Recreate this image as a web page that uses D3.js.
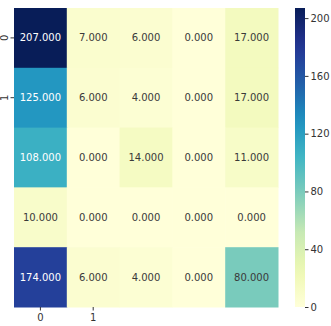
<!DOCTYPE html>
<html>
<head>
<meta charset="utf-8">
<script src="https://cdn.jsdelivr.net/npm/d3@7"></script>
<style>
  html, body { margin: 0; padding: 0; background: #fff; }
  svg { display: block; }
  text { font-family: "DejaVu Sans", sans-serif; }
</style>
</head>
<body>
<svg id="chart" width="331" height="326"></svg>
<script>
// Confusion-style count matrix, rows top to bottom
const rowKeys = [0, 1, 2, 3, 4];
const colKeys = [0, 1, 2, 3, 4];
const row0 = [207, 7, 6, 0, 17];
const row1 = [125, 6, 4, 0, 17];
const row2 = [108, 0, 14, 0, 11];
const row3 = [10, 0, 0, 0, 0];
const row4 = [174, 6, 4, 0, 80];
const matrix = [row0, row1, row2, row3, row4];
// Only these tick labels are shown on each axis
const xTickLabels = ["0", "1"];
const yTickLabels = ["0", "1"];
const colorbarTicks = [0, 40, 80, 120, 160, 200];

// YlGnBu ramp (9-class ColorBrewer stops, linearly interpolated)
const ylgnbu = ["#ffffd9","#edf8b1","#c7e9b4","#7fcdbb","#41b6c4","#1d91c0","#225ea8","#253494","#081d58"];

const vmin = 0;
const vmax = d3.max(matrix.flat());
const color = d3.scaleLinear()
  .domain(ylgnbu.map((_, i) => vmin + (vmax - vmin) * i / (ylgnbu.length - 1)))
  .range(ylgnbu)
  .interpolate(d3.interpolateRgb)
  .clamp(true);

const svg = d3.select("#chart");
const plot = { left: 14, top: 8, right: 278, bottom: 307 };

const x = d3.scaleBand().domain(colKeys).range([plot.left, plot.right]);
const y = d3.scaleBand().domain(rowKeys).range([plot.top, plot.bottom]);

const cells = [];
matrix.forEach((row, r) => row.forEach((v, c) => cells.push({ r, c, v })));

svg.append("g").selectAll("rect")
  .data(cells)
  .join("rect")
  .attr("x", d => x(d.c))
  .attr("y", d => y(d.r))
  .attr("width", x.bandwidth() + 0.5)
  .attr("height", y.bandwidth() + 0.5)
  .attr("fill", d => color(d.v));

// Annotation text colour follows the cell's luminance
function textColor(v) {
  const c = d3.rgb(color(v));
  const lin = ch => { ch /= 255; return ch <= 0.03928 ? ch / 12.92 : Math.pow((ch + 0.055) / 1.055, 2.4); };
  const lum = 0.2126 * lin(c.r) + 0.7152 * lin(c.g) + 0.0722 * lin(c.b);
  return lum > 0.408 ? "#3a3a3a" : "#ffffff";
}

svg.append("g").selectAll("text")
  .data(cells)
  .join("text")
  .attr("x", d => x(d.c) + x.bandwidth() / 2)
  .attr("y", d => y(d.r) + y.bandwidth() / 2)
  .attr("text-anchor", "middle")
  .attr("dominant-baseline", "central")
  .attr("font-size", 10)
  .attr("fill", d => textColor(d.v))
  .text(d => d.v.toFixed(3));

// X axis: ticks for the labelled columns only
const xAxis = d3.axisBottom(x)
  .tickValues(colKeys.slice(0, xTickLabels.length))
  .tickFormat((d, i) => xTickLabels[i])
  .tickSize(3.5)
  .tickPadding(3.5);
const gx = svg.append("g").attr("transform", `translate(0,${plot.bottom})`).call(xAxis);
gx.select(".domain").remove();
gx.selectAll("line").attr("stroke", "#333");
gx.selectAll("text").attr("font-size", 10).attr("fill", "#333");

// Y axis: rotated labels for the labelled rows only
const yAxis = d3.axisLeft(y)
  .tickValues(rowKeys.slice(0, yTickLabels.length))
  .tickFormat((d, i) => yTickLabels[i])
  .tickSize(3.5)
  .tickPadding(3.5);
const gy = svg.append("g").attr("transform", `translate(${plot.left},0)`).call(yAxis);
gy.select(".domain").remove();
gy.selectAll("line").attr("stroke", "#333");
gy.selectAll("text")
  .attr("font-size", 10)
  .attr("fill", "#333")
  .attr("text-anchor", "middle")
  .attr("x", 0)
  .attr("y", 0)
  .attr("dy", null)
  .attr("transform", "translate(-6.3,0) rotate(-90)");

// Colorbar
const cb = { left: 295, right: 305, top: 8, bottom: 307 };
const cbScale = d3.scaleLinear().domain([vmin, vmax]).range([cb.bottom, cb.top]);
const defs = svg.append("defs");
const grad = defs.append("linearGradient")
  .attr("id", "cbgrad").attr("x1", 0).attr("y1", 1).attr("x2", 0).attr("y2", 0);
d3.range(0, 1.0001, 0.05).forEach(t => {
  grad.append("stop").attr("offset", t).attr("stop-color", color(vmin + t * (vmax - vmin)));
});
svg.append("rect")
  .attr("x", cb.left).attr("y", cb.top)
  .attr("width", cb.right - cb.left).attr("height", cb.bottom - cb.top)
  .attr("fill", "url(#cbgrad)");

const cbAxis = d3.axisRight(cbScale)
  .tickValues(colorbarTicks)
  .tickSize(3.5)
  .tickPadding(2);
const gc = svg.append("g").attr("transform", `translate(${cb.right},0)`).call(cbAxis);
gc.select(".domain").remove();
gc.selectAll("line").attr("stroke", "#333");
gc.selectAll("text").attr("font-size", 10).attr("fill", "#333");
</script>
</body>
</html>
